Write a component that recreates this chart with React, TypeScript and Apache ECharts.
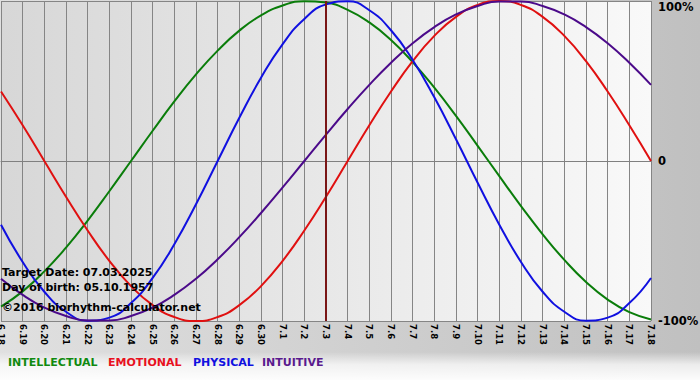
import React, { useEffect, useRef } from "react";
import * as echarts from "echarts";

const days = [
  "6.18", "6.19", "6.20", "6.21", "6.22", "6.23", "6.24", "6.25", "6.26", "6.27", "6.28", "6.29", "6.30",
  "7.1", "7.2", "7.3", "7.4", "7.5", "7.6", "7.7", "7.8", "7.9", "7.10", "7.11", "7.12", "7.13", "7.14",
  "7.15", "7.16", "7.17", "7.18",
];

const intellectual = [
  -0.91, -0.815, -0.69, -0.541, -0.372, -0.189, 0, 0.189, 0.372, 0.541, 0.69, 0.815, 0.91, 0.972, 0.999,
  0.99, 0.945, 0.866, 0.756, 0.618, 0.458, 0.282, 0.095, -0.095, -0.282, -0.458, -0.618, -0.756, -0.866,
  -0.945, -0.99,
];
const emotional = [
  0.434, 0.223, 0, -0.223, -0.434, -0.624, -0.782, -0.901, -0.975, -1.0, -0.975, -0.901, -0.782, -0.624,
  -0.434, -0.223, 0, 0.223, 0.434, 0.624, 0.782, 0.901, 0.975, 1.0, 0.975, 0.901, 0.782, 0.624, 0.434,
  0.223, 0,
];
const physical = [
  -0.398, -0.631, -0.817, -0.942, -0.998, -0.979, -0.888, -0.731, -0.52, -0.27, 0, 0.27, 0.52, 0.731, 0.888,
  0.979, 0.998, 0.942, 0.817, 0.631, 0.398, 0.136, -0.136, -0.398, -0.631, -0.817, -0.942, -0.998, -0.979,
  -0.888, -0.731,
];
const intuitive = [
  -0.736, -0.837, -0.916, -0.969, -0.997, -0.997, -0.969, -0.916, -0.837, -0.736, -0.614, -0.476, -0.325,
  -0.165, 0, 0.165, 0.325, 0.476, 0.614, 0.736, 0.837, 0.916, 0.969, 0.997, 0.997, 0.969, 0.916, 0.837,
  0.736, 0.614, 0.476,
];

const targetDay = "7.3";
const legendNames = ["INTELLECTUAL", "EMOTIONAL", "PHYSICAL", "INTUITIVE"];
const infoLines = ["Target Date: 07.03.2025", "Day of birth: 05.10.1957", "\u00a92016 biorhythm-calculator.net"];

const FONT = "DejaVu Sans, Verdana, sans-serif";
const lineColors = ["#0a7d0a", "#e01010", "#1010e0", "#4b0a8a"];
const legendColors = ["#108a10", "#e8101e", "#1010e0", "#5a1a8e"];

export default function App() {
  const ref = useRef<HTMLDivElement>(null);

  useEffect(() => {
    document.body.style.margin = "0";
    if (!ref.current) return;
    const chart = echarts.init(ref.current, null, { renderer: "svg" });

    const mk = (name: string, data: number[], color: string, extra: any = {}) => ({
      name,
      type: "line",
      data,
      smooth: 0.5,
      smoothConstraint: false,
      showSymbol: false,
      symbol: "none",
      lineStyle: { color, width: 2 },
      itemStyle: { color },
      emphasis: { disabled: true },
      silent: true,
      ...extra,
    });

    const legendX = [8, 108, 193, 262];
    const infoY = [272, 287, 307];

    chart.setOption({
      animation: false,
      backgroundColor: new echarts.graphic.LinearGradient(0, 0, 1, 0, [
        { offset: 0, color: "#e0e0e0" },
        { offset: 1, color: "#c0c0c0" },
      ]),
      grid: {
        left: 1,
        right: 49,
        top: 1,
        bottom: 59,
        containLabel: false,
        outerBoundsMode: "none",
        show: true,
        borderWidth: 0,
        backgroundColor: new echarts.graphic.LinearGradient(0, 0, 1, 0, [
          { offset: 0, color: "#d7d7d7" },
          { offset: 1, color: "#f9f9f9" },
        ]),
      },
      xAxis: {
        type: "category",
        data: days,
        boundaryGap: false,
        axisLine: { show: true, lineStyle: { color: "#808080", width: 1 } },
        axisTick: { show: true, length: 4, lineStyle: { color: "#808080" } },
        axisLabel: {
          interval: 0,
          rotate: -90,
          fontSize: 8.5,
          fontWeight: "bold",
          fontFamily: FONT,
          color: "#000",
          margin: 3,
        },
        splitLine: { show: true, lineStyle: { color: "#858585", width: 1 } },
      },
      yAxis: {
        type: "value",
        position: "right",
        min: -1,
        max: 1,
        interval: 1,
        axisLine: { show: false },
        axisTick: { show: false },
        splitLine: { show: true, lineStyle: { color: "#858585", width: 1 } },
        axisLabel: {
          margin: 7,
          fontSize: 11.5,
          fontWeight: "bold",
          fontFamily: FONT,
          color: "#000",
          formatter: (v: number) => (v === 1 ? "{t|100%}" : v === 0 ? "0" : "-100%"),
          rich: {
            t: { fontSize: 11.5, fontWeight: "bold", fontFamily: FONT, color: "#000", padding: [12, 0, 0, 0] },
          },
        },
      },
      series: [
        mk(legendNames[0], intellectual, lineColors[0]),
        mk(legendNames[1], emotional, lineColors[1]),
        mk(legendNames[2], physical, lineColors[2]),
        mk(legendNames[3], intuitive, lineColors[3], {
          markLine: {
            silent: true,
            symbol: ["none", "none"],
            label: { show: false },
            lineStyle: { color: "#7a1616", width: 2, type: "solid" },
            data: [{ xAxis: targetDay }],
          },
        }),
      ],
      graphic: [
        {
          type: "rect",
          z: -1,
          silent: true,
          shape: { x: 0, y: 352, width: 700, height: 28 },
          style: {
            fill: new echarts.graphic.LinearGradient(0, 0, 0, 1, [
              { offset: 0, color: "rgba(255,255,255,0)" },
              { offset: 0.45, color: "rgba(255,255,255,0.7)" },
              { offset: 1, color: "rgba(255,255,255,0.95)" },
            ]),
          },
        },
        ...legendNames.map((n, i) => ({
          type: "text",
          z: 100,
          x: legendX[i],
          y: 362,
          style: {
            text: n,
            fill: legendColors[i],
            font: `bold 11px ${FONT}`,
            textVerticalAlign: "middle",
            verticalAlign: "middle",
          },
        })),
        ...infoLines.map((t, i) => ({
          type: "text",
          z: 100,
          x: 2,
          y: infoY[i],
          style: {
            text: t,
            fill: "#000",
            font: `bold 11px ${FONT}`,
            textVerticalAlign: "middle",
            verticalAlign: "middle",
          },
        })),
      ],
    });

    return () => chart.dispose();
  }, []);

  return <div ref={ref} style={{ width: 700, height: 380 }} />;
}
